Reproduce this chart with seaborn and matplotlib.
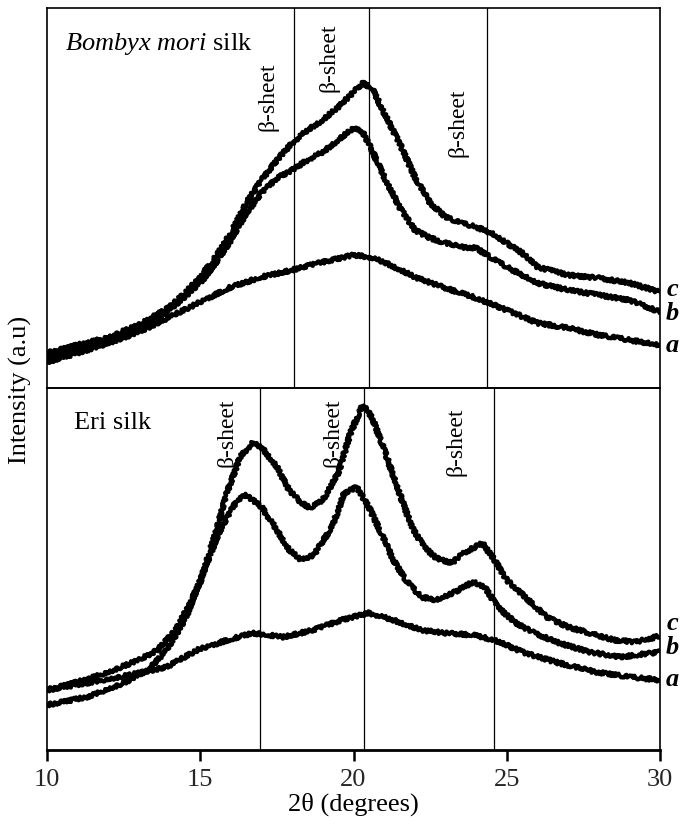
import matplotlib
matplotlib.use("Agg")
import matplotlib.pyplot as plt
import numpy as np
import pandas as pd
import seaborn as sns

sns.set_theme(style="white")
plt.rcParams["font.family"] = ["Liberation Serif", "DejaVu Serif"]
plt.rcParams["mathtext.fontset"] = "custom"
plt.rcParams["mathtext.rm"] = "Liberation Serif"
plt.rcParams["mathtext.it"] = "Liberation Serif:italic"
plt.rcParams["mathtext.bf"] = "Liberation Serif:bold:italic"

# ---------------- data (arbitrary intensity units) ----------------
# Bombyx mori silk (top panel)
bm_c_x = [10, 12, 13, 14, 14.5, 15, 15.5, 16, 16.5, 17, 17.5, 18, 18.5, 19, 19.5, 20, 20.3, 20.6,
          21, 21.5, 22, 22.5, 23, 23.5, 24, 24.5, 25, 25.5, 26, 27, 28, 29, 30]
bm_c_y = [35, 51, 63, 81, 95, 111, 131, 155, 185, 208, 228, 245, 258, 268, 281, 296, 305, 300,
          275, 245, 211, 185, 171, 165, 161, 155, 145, 135, 121, 113, 110, 105, 96]
bm_b_x = [10, 12, 13, 14, 15, 15.5, 16, 16.5, 17, 17.5, 18, 18.5, 19, 19.5, 20, 20.3, 20.6,
          21, 21.5, 22, 22.5, 23, 23.5, 24, 24.5, 25, 25.5, 26, 27, 28, 29, 30]
bm_b_y = [30, 48, 60, 78, 105, 125, 148, 175, 195, 210, 218, 228, 236, 248, 260, 256, 238,
          211, 181, 158, 150, 145, 141, 140, 130, 121, 113, 105, 98, 93, 88, 76]
bm_a_x = [10, 11, 12, 13, 14, 15, 16, 17, 18, 19, 20, 20.5, 21, 22, 23, 24, 25, 26, 27, 28, 29, 30]
bm_a_y = [26, 35, 45, 56, 71, 86, 101, 111, 118, 126, 133, 131, 126, 111, 100, 90, 78, 65, 60,
          53, 48, 43]

# Eri silk (bottom panel)
eri_c_x = [10, 11, 12, 13, 13.6, 14.2, 14.6, 15, 15.5, 15.9, 16.3, 16.7, 17, 17.5, 17.9, 18.3,
           18.6, 19, 19.5, 19.9, 20.3, 20.6, 21, 21.5, 21.9, 22.3, 22.7, 23.2, 23.6, 24.2, 24.6,
           25, 25.6, 26.3, 27, 27.7, 28.5, 29.2, 30]
eri_c_y = [60, 68, 78, 90, 100, 120, 143, 168, 217, 260, 293, 307, 303, 283, 260, 247, 242, 250,
           277, 317, 345, 333, 300, 257, 223, 203, 192, 187, 197, 207, 190, 170, 153, 133, 123,
           117, 110, 108, 114]
eri_b_x = [10, 11.3, 12.5, 13.3, 13.9, 14.5, 15, 15.6, 16.2, 16.5, 17, 17.5, 17.9, 18.3, 18.7,
           19.3, 19.7, 20.1, 20.5, 20.9, 21.3, 21.7, 22.2, 22.7, 23.3, 23.9, 24.3, 24.7, 25.3,
           25.9, 26.7, 27.7, 28.7, 30]
eri_b_y = [45, 53, 67, 80, 100, 130, 170, 217, 250, 255, 243, 220, 200, 190, 195, 223, 257, 263,
           243, 217, 190, 170, 153, 150, 158, 168, 162, 143, 127, 117, 107, 98, 93, 98]
eri_a_x = [10, 11.3, 12.7, 13.9, 14.9, 15.9, 16.7, 17.7, 18.7, 19.6, 20.5, 21.3, 22.2, 23.0,
           23.9, 24.6, 25.6, 26.7, 27.9, 29.0, 30]
eri_a_y = [60, 67, 75, 83, 100, 110, 117, 113, 120, 130, 137, 130, 120, 117, 115, 110, 97, 87,
           78, 73, 70]

beta_top = [18.05, 20.5, 24.37]
beta_bottom = [16.95, 20.35, 24.57]
sample_names = ["a", "b", "c"]
x_ticks = [10, 15, 20, 25, 30]


def frame(parts):
    rows = []
    for name, xs, ys in parts:
        for x, y in zip(xs, ys):
            rows.append({"theta": x, "intensity": y, "sample": name})
    return pd.DataFrame(rows)


df_top = frame([("a", bm_a_x, bm_a_y), ("b", bm_b_x, bm_b_y), ("c", bm_c_x, bm_c_y)])
df_bot = frame([("a", eri_a_x, eri_a_y), ("b", eri_b_x, eri_b_y), ("c", eri_c_x, eri_c_y)])

# ---------------- figure ----------------
W, H = 686, 831
fig = plt.figure(figsize=(W / 100, H / 100), dpi=100)
L, R = 47 / W, 660 / W
ax_top = fig.add_axes([L, 1 - 388 / H, R - L, (388 - 8) / H])
ax_bot = fig.add_axes([L, 1 - 750 / H, R - L, (750 - 388) / H])

pal = {n: "black" for n in sample_names}
for ax, df, betas in [(ax_top, df_top, beta_top), (ax_bot, df_bot, beta_bottom)]:
    ax.set_facecolor("none")
    sns.lineplot(data=df, x="theta", y="intensity", hue="sample", palette=pal,
                 legend=False, lw=3.0, ax=ax, sort=False)
    for ln in ax.lines:
        ln.set_sketch_params(scale=1.8, length=4, randomness=3)
        ln.set_solid_joinstyle("round")
        ln.set_solid_capstyle("round")
    for b in betas:
        ax.axvline(b, color="black", lw=0.9, zorder=1)
    ax.set_xlim(10, 30)
    ax.set_yticks([])
    ax.set_ylabel("")
    ax.set_xlabel("")
    for s in ax.spines.values():
        s.set_color("black")
        s.set_linewidth(1.2)
        s.set_zorder(5)

ax_top.set_ylim(0, 380)
ax_bot.set_ylim(0, 362)
ax_top.set_xticks([])
ax_top.spines["bottom"].set_linewidth(1.2)
ax_bot.spines["top"].set_linewidth(1.2)
ax_bot.spines["bottom"].set_linewidth(2.0)

ax_bot.set_xticks(x_ticks)
ax_bot.set_xticklabels([str(t) for t in x_ticks])
ax_bot.tick_params(axis="x", direction="out", length=8, width=1.8, color="black",
                   labelsize=19, pad=6, bottom=True)
ax_bot.set_xlabel("2θ (degrees)", fontsize=19, labelpad=1, color="black")

# panel titles
ax_top.text(0.029, 0.905, r"$\mathit{Bombyx\ mori}$ silk", transform=ax_top.transAxes,
            fontsize=19, ha="left", va="center", color="black")
ax_bot.text(0.044, 0.903, "Eri silk", transform=ax_bot.transAxes,
            fontsize=19, ha="left", va="center", color="black")

# beta-sheet labels
for ax, pts in [(ax_top, [(268, 0.766), (329, 0.868), (458, 0.697)]),
                (ax_bot, [(227, 0.876), (333, 0.876), (456, 0.851)])]:
    for px, yf in pts:
        ax.text((px - 47) / 613, yf, "β-sheet", transform=ax.transAxes, rotation=90,
                ha="center", va="center", fontsize=17, color="black")

# curve letters
for ax, ys in [(ax_top, [(346, "a"), (313, "b"), (289, "c")]),
               (ax_bot, [(680, "a"), (648, "b"), (623, "c")])]:
    for py, lab in ys:
        fy = 1 - py / H
        fig.text(672 / W, fy, lab, fontsize=19, fontweight="bold", fontstyle="italic",
                 ha="center", va="center", color="black")

fig.text(20 / W, 1 - 390 / H, "Intensity (a.u)", rotation=90, ha="center", va="center",
         fontsize=19, color="black")

fig.savefig("out.png", dpi=100, facecolor="white")
